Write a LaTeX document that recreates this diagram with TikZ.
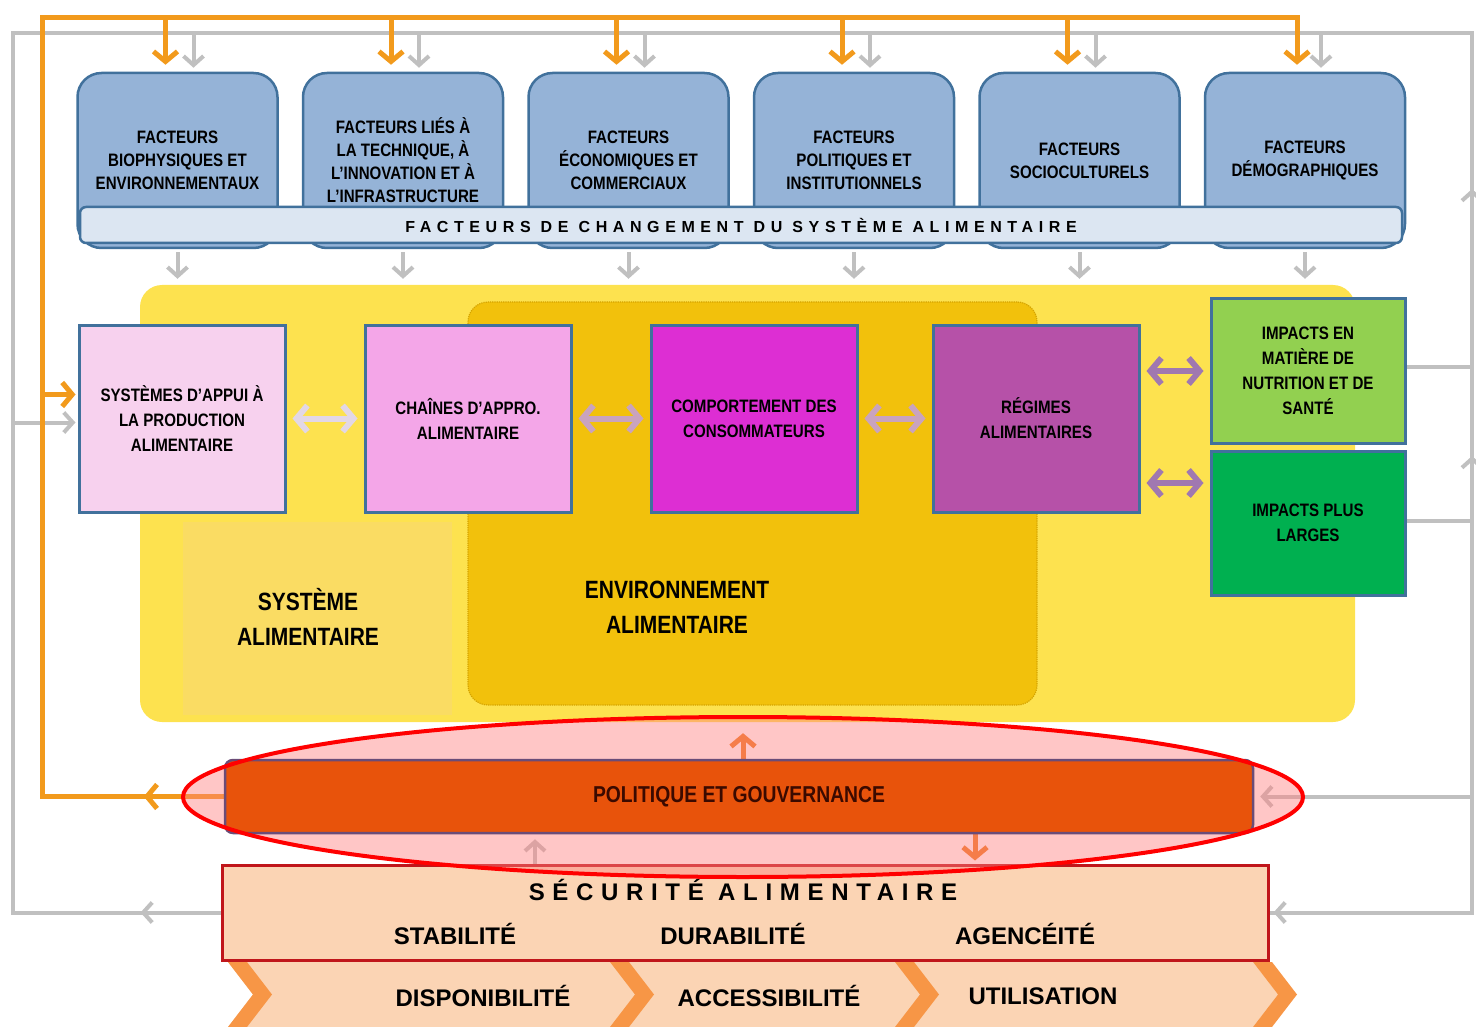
\documentclass[tikz,border=0pt]{standalone}
\usepackage{fontspec}
\setmainfont{Liberation Sans}
\newfontfamily\narrowsf{Liberation Sans}[FakeStretch=0.84]
\usetikzlibrary{positioning,arrows.meta,
                 decorations.markings}
\pgfdeclarelayer{wires}
\pgfsetlayers{wires,main}

\definecolor{driverblue}{HTML}{95B3D7}
\definecolor{edgeblue}{HTML}{41719C}
\definecolor{bandblue}{HTML}{DCE6F2}
\definecolor{sysyellow}{HTML}{FDE24F}
\definecolor{syslight}{HTML}{FADC63}
\definecolor{envgold}{HTML}{F2C10C}
\definecolor{envdots}{HTML}{D4A300}
\definecolor{pinklight}{HTML}{F7D1EE}
\definecolor{pinkmid}{HTML}{F4A6E8}
\definecolor{consumermag}{HTML}{DD2ED3}
\definecolor{dietpurple}{HTML}{B651A8}
\definecolor{lightgreen}{HTML}{92D050}
\definecolor{darkgreen}{HTML}{00B050}
\definecolor{policyorange}{HTML}{E8530B}
\definecolor{policyedge}{HTML}{6A4C78}
\definecolor{policytext}{HTML}{3B0A00}
\definecolor{peach}{HTML}{FBD4B4}
\definecolor{securityred}{HTML}{C0161B}
\definecolor{chevron}{HTML}{F79646}
\definecolor{busorange}{HTML}{F29A1C}
\definecolor{arroworange}{HTML}{EE7B1E}
\definecolor{linegray}{HTML}{C0C0C0}
\definecolor{arrowlav}{HTML}{E2D7E6}
\definecolor{arrowmauve}{HTML}{C9A3BE}
\definecolor{arrowpurple}{HTML}{A078B0}
\definecolor{ovalred}{HTML}{FF0000}
\definecolor{ovalpink}{HTML}{FF8080}

\tikzset{
  sysregion/.style  = {fill=sysyellow, rounded corners=22pt},
  envregion/.style  = {fill=envgold, draw=envdots, densely dotted, line width=1.2pt, rounded corners=20pt},
  regiontext/.style = {align=center, font=\narrowsf\bfseries\fontsize{25}{35}\selectfont},
  driver/.style     = {draw=edgeblue, line width=2.5pt, fill=driverblue, rounded corners=24pt,
                       minimum width=200pt, minimum height=175pt, align=center,
                       font=\narrowsf\bfseries\fontsize{18}{23}\selectfont},
  band/.style       = {draw=edgeblue, line width=2.5pt, fill=bandblue, rounded corners=6pt,
                       minimum width=1322pt, minimum height=36pt,
                       font=\bfseries\fontsize{16}{18}\selectfont\addfontfeature{LetterSpace=35}},
  stage/.style      = {draw=edgeblue, line width=3pt, minimum width=206pt, minimum height=187pt,
                       align=center, font=\narrowsf\bfseries\fontsize{18}{25}\selectfont},
  impact/.style     = {stage, minimum width=194pt, minimum height=144pt},
  policy/.style     = {draw=policyedge, line width=2.5pt, fill=policyorange, rounded corners=8pt,
                       minimum width=1028pt, minimum height=73pt, text=policytext,
                       font=\narrowsf\bfseries\fontsize{23}{25}\selectfont},
  security/.style   = {draw=securityred, line width=3pt, fill=peach,
                       minimum width=1046pt, minimum height=95pt},
  sectitle/.style   = {font=\bfseries\fontsize{24}{26}\selectfont\addfontfeature{LetterSpace=32}},
  pillar/.style     = {font=\bfseries\fontsize{24}{26}\selectfont},
  gline/.style      = {draw=linegray, line width=4pt},
  oline/.style      = {draw=busorange, line width=5pt},
  gtip/.style       = {gline, -{Straight Barb[length=9pt,width=20pt]}},
  otip/.style       = {oline, -{Straight Barb[length=10pt,width=24pt]}},
  both/.style       = {line width=6pt, shorten <=6pt, shorten >=6pt,
                       {Straight Barb[length=11pt,width=26pt]}-{Straight Barb[length=11pt,width=26pt]}},
}

\begin{document}
\begin{tikzpicture}[x=1pt, y=-1pt]
  \useasboundingbox (0,0) rectangle (1476,1027);

  % food system and food environment
  \node[sysregion, minimum width=1215pt, minimum height=437pt] (sys) at (747.5,503.5) {};
  \fill[syslight] (183,522) rectangle (452,715);
  \node[envregion, minimum width=569pt, minimum height=403pt] (env) at (752.5,503.5) {};
  \node[regiontext] (systxt) at (308,617) {SYSTÈME\\ALIMENTAIRE};
  \node[regiontext] (envtxt) at (677,607) {ENVIRONNEMENT\\ALIMENTAIRE};

  % drivers
  \node[driver] (f1) at (177.5,160.5) {FACTEURS\\BIOPHYSIQUES ET\\ENVIRONNEMENTAUX};
  \node[driver, right=23pt of f1] (f2) {FACTEURS LIÉS À\\LA TECHNIQUE, À\\L’INNOVATION ET À\\L’INFRASTRUCTURE};
  \node[driver, right=23pt of f2] (f3) {FACTEURS\\ÉCONOMIQUES ET\\COMMERCIAUX};
  \node[driver, right=23pt of f3] (f4) {FACTEURS\\POLITIQUES ET\\INSTITUTIONNELS};
  \node[driver, right=23pt of f4] (f5) {FACTEURS\\SOCIOCULTURELS};
  \node[driver, right=23pt of f5] (f6) {FACTEURS\\DÉMOGRAPHIQUES};
  \node[band] (band) at (741,225) {FACTEURS DE CHANGEMENT DU SYSTÈME ALIMENTAIRE};

  % food system stages
  \node[stage, fill=pinklight] (support) at (182,418.5) {SYSTÈMES D’APPUI À\\LA PRODUCTION\\ALIMENTAIRE};
  \node[stage, fill=pinkmid, right=77pt of support] (chains) {CHAÎNES D’APPRO.\\ALIMENTAIRE};
  \node[stage, fill=consumermag, right=77pt of chains] (consumer) {COMPORTEMENT DES\\CONSOMMATEURS};
  \node[stage, fill=dietpurple, right=73pt of consumer] (diets) {RÉGIMES\\ALIMENTAIRES};
  \node[impact, fill=lightgreen] (nutrition) at (1308,371) {IMPACTS EN\\MATIÈRE DE\\NUTRITION ET DE\\SANTÉ};
  \node[impact, fill=darkgreen, below=5pt of nutrition] (wider) {IMPACTS PLUS\\LARGES};

  \draw[both, arrowlav] (support) -- (chains);
  \draw[both, arrowmauve] (chains) -- (consumer);
  \draw[both, arrowmauve] (consumer) -- (diets);
  \draw[both, arrowpurple] (nutrition.west -| diets.east) -- (nutrition.west);
  \draw[both, arrowpurple] ([yshift=40pt]wider.west -| diets.east) -- ([yshift=40pt]wider.west);

  % food security
  \node[security] (sec) at (745,912.5) {};
  \node[sectitle] (sectitle) at (743,890) {SÉCURITÉ ALIMENTAIRE};
  \node[pillar] (stab) at (455,934) {STABILITÉ};
  \node[pillar] (dura) at (733,934) {DURABILITÉ};
  \node[pillar] (agen) at (1025,934) {AGENCÉITÉ};
  \fill[peach] (228,962) -- (1253,962) -- (1278,994.5) -- (1253,1027) -- (228,1027) -- (253,994.5) -- cycle;
  \foreach \x in {228,610,895,1253}
    \fill[chevron] (\x,962) -- ++(19,0) -- ++(25,32.5) -- ++(-25,32.5) -- ++(-19,0) -- ++(25,-32.5) -- cycle;
  \node[pillar] (disp) at (483,996) {DISPONIBILITÉ};
  \node[pillar] (acc) at (769,996) {ACCESSIBILITÉ};
  \node[pillar] (util) at (1043,996) {UTILISATION};

  % policy and governance
  \fill[ovalpink, opacity=.45] (743,797) ellipse [x radius=560pt, y radius=80pt];
  \node[policy] (pol) at (739,796.5) {POLITIQUE ET GOUVERNANCE};
  \draw[ovalred, line width=4pt] (743,797) ellipse [x radius=560pt, y radius=80pt];

  \begin{pgfonlayer}{wires}
    \coordinate (gNW) at (13,33);
    \coordinate (gNE) at (1472,33);
    \coordinate (oNW) at (42,18);
    % grey feedback frame
    \draw[gline, decoration={markings,
        mark=at position 80pt with {\arrow{Straight Barb[length=9pt,width=20pt]}},
        mark=at position -659pt with {\arrowreversed{Straight Barb[length=9pt,width=20pt]}},
        mark=at position -926pt with {\arrowreversed{Straight Barb[length=9pt,width=20pt]}}},
        postaction={decorate}]
      (sec.west) -| (gNW) -- (gNE) |- (sec.east);
    \draw[gtip] ([xshift=60pt]sec.east) -- ([xshift=4pt]sec.east);
    \foreach \drv in {f1,f2,f3,f4,f5,f6} {
      \draw[gtip, shorten >=4pt] ([xshift=16pt]\drv.north |- gNW) -- ([xshift=16pt]\drv.north);
      \draw[gtip, shorten <=3pt, shorten >=6pt] (\drv.south) -- (\drv.south |- sys.north);
    }
    \draw[gline] ([yshift=4pt]nutrition.east) -- ([yshift=4pt]nutrition.east -| gNE);
    \draw[gline] ([yshift=2pt]wider.east) -- ([yshift=2pt]wider.east -| gNE);
    \draw[gtip, shorten >=6pt] (pol.east -| gNE) -- (pol.east);
    \draw[gtip, shorten >=2pt] ([yshift=-4pt]support.west -| gNW) -- ([yshift=-4pt]support.west);
    \draw[gtip, shorten >=5pt] ([xshift=-204pt]pol.south |- sec.north) -- ([xshift=-204pt]pol.south);
    % orange policy loop
    \draw[otip, shorten >=7pt, decoration={markings,
        mark=at position 80pt with {\arrow{Straight Barb[length=10pt,width=24pt]}}},
        postaction={decorate}]
      (pol.west) -| (oNW) -| ([xshift=-8pt]f6.north);
    \foreach \drv in {f1,f2,f3,f4,f5}
      \draw[otip, shorten >=7pt] ([xshift=-12pt]\drv.north |- oNW) -- ([xshift=-12pt]\drv.north);
    \draw[otip, shorten >=2pt] ([yshift=24pt]support.west -| oNW) -- ([yshift=24pt]support.west);
    \draw[otip, draw=arroworange, shorten >=11pt] ([xshift=4pt]pol.north) -- ([xshift=4pt]pol.north |- sys.south);
    \draw[otip, draw=arroworange, shorten >=3pt] ([xshift=236pt]pol.south) -- ([xshift=236pt]pol.south |- sec.north);
  \end{pgfonlayer}
\end{tikzpicture}
\end{document}
